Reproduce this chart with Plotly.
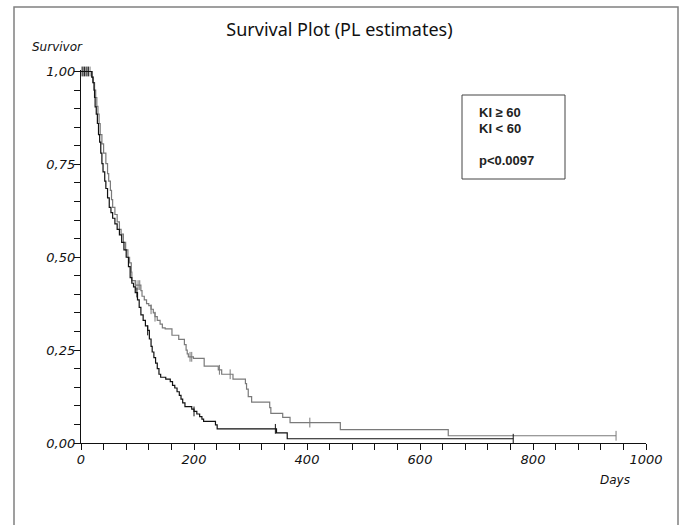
import numpy as np
import plotly.graph_objects as go

# ---------------- data ----------------
# Kaplan-Meier step curves (day of event, survival after the event)
low_days = [0, 19, 21, 23, 24, 25, 27, 29, 31, 33, 35, 37, 39, 42, 44, 47, 50, 53, 56, 60,
            64, 68, 72, 76, 80, 84, 87, 90, 93, 96, 100, 103, 106, 110, 114, 118, 121, 124,
            126, 129, 132, 135, 138, 141, 150, 158, 162, 166, 170, 174, 177, 180, 184, 196,
            200, 205, 210, 214, 217, 238, 241, 346, 365, 765]
low_surv = [1.0, 0.985, 0.97, 0.95, 0.93, 0.905, 0.885, 0.86, 0.83, 0.81, 0.78, 0.752, 0.73,
            0.705, 0.685, 0.66, 0.634, 0.62, 0.605, 0.59, 0.575, 0.56, 0.54, 0.52, 0.50, 0.475,
            0.445, 0.43, 0.42, 0.405, 0.385, 0.365, 0.345, 0.33, 0.315, 0.303, 0.28, 0.26,
            0.245, 0.23, 0.215, 0.20, 0.185, 0.177, 0.172, 0.165, 0.155, 0.148, 0.138, 0.128,
            0.118, 0.108, 0.098, 0.091, 0.085, 0.078, 0.071, 0.064, 0.058, 0.049, 0.038, 0.027,
            0.0115, 0.0115]
low_censor_days = [2, 6, 9, 13, 99, 118, 200, 344, 765]

high_days = [0, 20, 22, 24, 26, 28, 30, 32, 34, 37, 40, 44, 47, 49, 52, 54, 56, 60, 64, 68,
             71, 75, 79, 83, 86, 89, 90, 96, 106, 108, 112, 116, 120, 124, 128, 131, 135, 140,
             144, 149, 161, 173, 183, 186, 188, 190, 199, 218, 243, 249, 269, 291, 293, 296,
             302, 334, 336, 357, 370, 459, 650, 947]
high_surv = [1.0, 0.985, 0.97, 0.95, 0.93, 0.906, 0.885, 0.86, 0.83, 0.805, 0.78, 0.752, 0.725,
             0.705, 0.68, 0.655, 0.634, 0.615, 0.595, 0.575, 0.5625, 0.54, 0.52, 0.50, 0.485,
             0.46, 0.437, 0.425, 0.41, 0.395, 0.385, 0.375, 0.37, 0.36, 0.35, 0.34, 0.33, 0.32,
             0.31, 0.307, 0.29, 0.279, 0.265, 0.25, 0.24, 0.232, 0.228, 0.207, 0.197, 0.185,
             0.172, 0.16, 0.145, 0.125, 0.11, 0.095, 0.08, 0.069, 0.055, 0.036, 0.0195, 0.0195]
high_censor_days = [4, 11, 16, 97, 101, 104, 124, 131, 193, 196, 245, 264, 405, 947]

x_tick_vals = [0, 200, 400, 600, 800, 1000]
x_tick_text = ["0", "200", "400", "600", "800", "1000"]
y_tick_vals = [0, 0.25, 0.5, 0.75, 1.0]
y_tick_text = ["0,00", "0,25", "0,50", "0,75", "1,00"]

title_text = "Survival Plot (PL estimates)"
legend_lines = ["<b>KI ≥ 60</b>", "<b>KI < 60</b>", "<b>p<0.0097</b>"]


def surv_at(days, surv, t):
    idx = np.searchsorted(np.array(days), np.array(t), side="right") - 1
    return list(np.array(surv)[idx])


# ---------------- layout helpers ----------------
W, H = 679, 525
L, R, T, B = 81, 33, 70, 82
pw, ph = W - L - R, H - T - B


def px(x):
    return (x - L) / pw


def py(y):
    return (H - B - y) / ph


fig = go.Figure()

for days, surv, cdays, col in [
    (high_days, high_surv, high_censor_days, "#7a7a7a"),
    (low_days, low_surv, low_censor_days, "#111111"),
]:
    fig.add_trace(go.Scatter(x=days, y=surv, mode="lines", line=dict(color=col, width=1.2, shape="hv"),
                             showlegend=False, hoverinfo="skip"))
    fig.add_trace(go.Scatter(x=cdays, y=surv_at(days, surv, cdays), mode="markers",
                             marker=dict(symbol="line-ns", size=7, color=col, line=dict(width=1, color=col)),
                             showlegend=False, hoverinfo="skip", cliponaxis=False))

axis_font = dict(family="DejaVu Sans", size=13, color="#111", style="italic")

fig.update_layout(
    width=W, height=H,
    margin=dict(l=L, r=R, t=T, b=B),
    paper_bgcolor="white", plot_bgcolor="white",
    title=dict(text=title_text, x=px((L + W - R) / 2), xanchor="center", y=1 - 30 / H, yanchor="middle",
               font=dict(family="Noto Sans", size=18, color="#111")),
    xaxis=dict(range=[0, 1000], tickvals=x_tick_vals, ticktext=x_tick_text, ticks="outside", ticklen=6,
               tickcolor="#111", showline=True, linecolor="#111", linewidth=1.2, showgrid=False,
               zeroline=False, tickfont=axis_font, ticklabelstandoff=-2,
               minor=dict(dtick=40, ticks="outside", ticklen=6, tickcolor="#111")),
    yaxis=dict(range=[0, 1.004], tickvals=y_tick_vals, ticktext=y_tick_text, ticks="outside", ticklen=6,
               tickcolor="#111", showline=True, linecolor="#111", linewidth=1.2, showgrid=False,
               zeroline=False, tickfont=axis_font, ticklabelstandoff=-4,
               minor=dict(dtick=0.05, ticks="outside", ticklen=6, tickcolor="#111")),
    shapes=[
        dict(type="rect", xref="paper", yref="paper", x0=px(14), x1=px(678), y0=py(540), y1=py(7),
             line=dict(color="#808080", width=1.5)),
        dict(type="rect", xref="paper", yref="paper", x0=px(462), x1=px(565), y0=py(179), y1=py(95),
             line=dict(color="#444", width=1)),
    ],
    annotations=[
        dict(text="Survivor", x=px(57), y=py(47), xref="paper", yref="paper", xanchor="center",
             yanchor="middle", showarrow=False,
             font=dict(family="DejaVu Sans", size=12, color="#111", style="italic")),
        dict(text="Days", x=px(615), y=py(480), xref="paper", yref="paper", xanchor="center",
             yanchor="middle", showarrow=False,
             font=dict(family="DejaVu Sans", size=12, color="#111", style="italic")),
    ] + [
        dict(text=t, x=px(477), y=py(yy), xref="paper", yref="paper", xanchor="left", yanchor="middle",
             showarrow=False, font=dict(family="Liberation Sans", size=13, color="#222"))
        for t, yy in zip(legend_lines, [113, 128, 160])
    ],
)

fig.write_html("out.html")
